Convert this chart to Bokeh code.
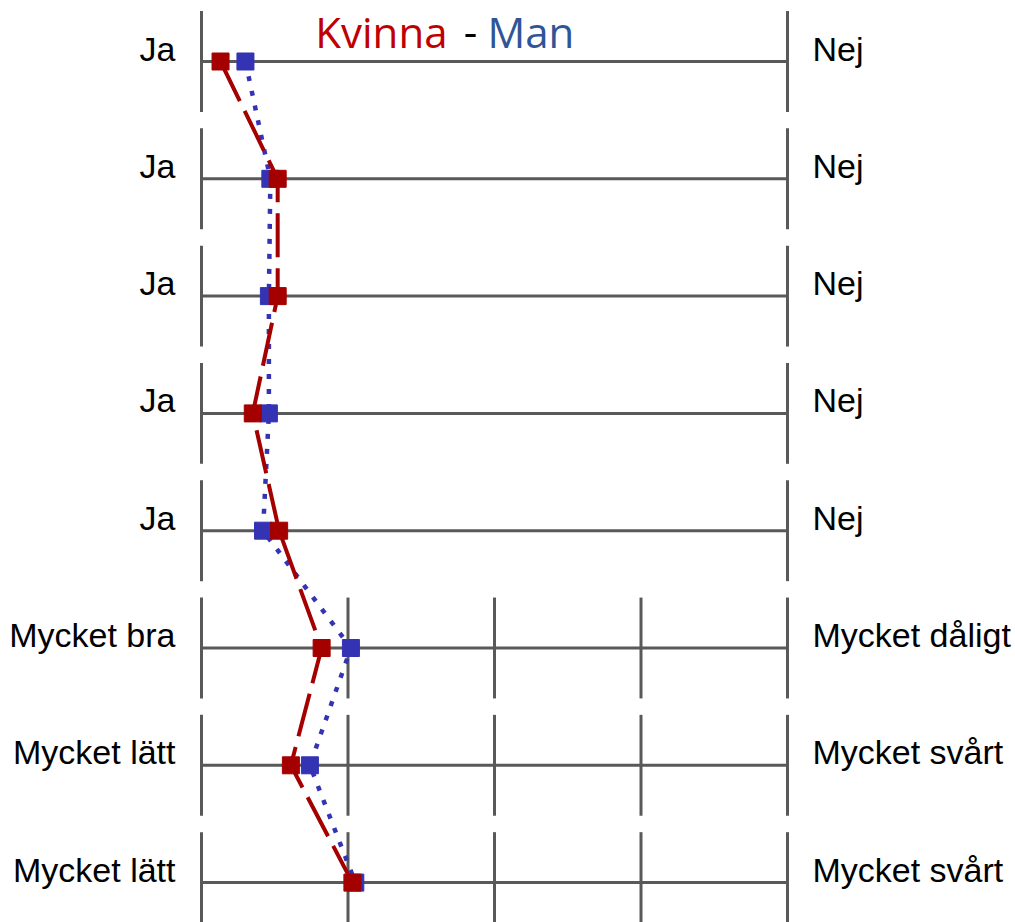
from bokeh.plotting import figure
from bokeh.models import Range1d, ColumnDataSource
from bokeh.core.properties import value
from bokeh.embed import file_html
from bokeh.resources import INLINE

# ---- data ----
rows = [0, 1, 2, 3, 4, 5, 6, 7]
left_labels = ["Ja", "Ja", "Ja", "Ja", "Ja", "Mycket bra", "Mycket lätt", "Mycket lätt"]
right_labels = ["Nej", "Nej", "Nej", "Nej", "Nej", "Mycket dåligt", "Mycket svårt", "Mycket svårt"]
row_ticks = [[1, 5], [1, 5], [1, 5], [1, 5], [1, 5],
             [1, 2, 3, 4, 5], [1, 2, 3, 4, 5], [1, 2, 3, 4, 5]]
scale_min = 1
scale_max = 5
kvinna = [1.13, 1.52, 1.52, 1.35, 1.53, 1.82, 1.61, 2.03]
man = [1.30, 1.47, 1.46, 1.46, 1.42, 2.02, 1.74, 2.05]

# ---- styles ----
GRID = "#595959"
RED = "#A50000"
BLUE = "#3333B3"
LABEL_FONT = value("Liberation Sans")

W, H = 1015, 922
px_per_unit = 146.5
row_px = 117.3
x_start = scale_min - 201 / px_per_unit
x_end = x_start + W / px_per_unit
y_top = -61 / row_px
y_bottom = y_top + H / row_px

p = figure(width=W, height=H, output_backend="svg", toolbar_location=None,
           x_range=Range1d(x_start, x_end), y_range=Range1d(y_bottom, y_top),
           min_border=0, outline_line_color=None)
p.axis.visible = False
p.grid.visible = False
p.background_fill_color = "white"
p.border_fill_color = "white"

# horizontal scale lines
p.segment(x0=[scale_min] * len(rows), x1=[scale_max] * len(rows), y0=rows, y1=rows,
          line_color=GRID, line_width=3)

# vertical ticks
tx, ty0, ty1 = [], [], []
for r, ticks in zip(rows, row_ticks):
    for t in ticks:
        tx.append(t)
        ty0.append(r - 0.43)
        ty1.append(r + 0.43)
p.segment(x0=tx, x1=tx, y0=ty0, y1=ty1, line_color=GRID, line_width=3)

# labels
p.text(x=[scale_min] * len(rows), y=rows, text=left_labels, text_align="right",
       text_baseline="middle", x_offset=-26, y_offset=-13, text_font=LABEL_FONT,
       text_font_size="34px", text_color="#000000")
p.text(x=[scale_max] * len(rows), y=rows, text=right_labels, text_align="left",
       text_baseline="middle", x_offset=25, y_offset=-13, text_font=LABEL_FONT,
       text_font_size="34px", text_color="#000000")

# series
src = ColumnDataSource(dict(row=rows, kvinna=kvinna, man=man))
p.line(x="man", y="row", source=src, line_color=BLUE, line_width=4.5, line_dash="5 10")
p.scatter(x="man", y="row", source=src, marker="square", size=17,
          fill_color=BLUE, line_color=BLUE)
p.line(x="kvinna", y="row", source=src, line_color=RED, line_width=4, line_dash="44 11")
p.scatter(x="kvinna", y="row", source=src, marker="square", size=17,
          fill_color=RED, line_color=RED)

# title "Kvinna - Man"
TFONT = value("Open Sans")
p.text(x=[2.836], y=[0], text=["Kvinna"], text_align="right", text_baseline="middle",
       x_offset=-23, y_offset=-30, text_font=TFONT, text_font_size="42px", text_color="#C00000")
p.text(x=[2.836], y=[0], text=["-"], text_align="center", text_baseline="middle",
       x_offset=0, y_offset=-30, text_font=TFONT, text_font_size="42px", text_color="#000000")
p.text(x=[2.836], y=[0], text=["Man"], text_align="left", text_baseline="middle",
       x_offset=17, y_offset=-30, text_font=TFONT, text_font_size="42px", text_color="#2F5597")

open("out.html", "w").write(file_html(p, INLINE))
